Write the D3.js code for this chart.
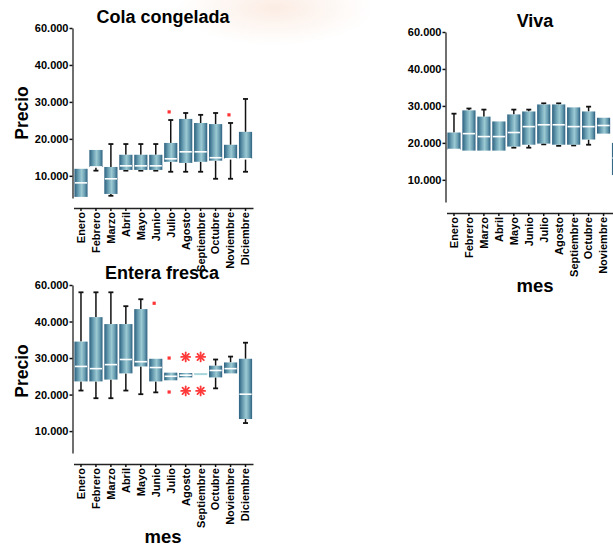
<!DOCTYPE html>
<html>
<head>
<meta charset="utf-8">
<script src="https://cdn.jsdelivr.net/npm/d3@7"></script>
<style>
  html, body { margin: 0; padding: 0; background: #fff; }
  svg { display: block; font-family: "Liberation Sans", Arial, sans-serif; }
</style>
</head>
<body>
<svg id="chart" width="613" height="548"></svg>
<script>
// Months on the x axis
const meses = ["Enero","Febrero","Marzo","Abril","Mayo","Junio","Julio","Agosto","Septiembre","Octubre","Noviembre","Diciembre"];

// Y axis ticks (values and printed labels)
const tickValues = [10000, 20000, 30000, 40000, 50000];
const tickLabels = ["10.000", "20.000", "30.000", "40.000", "60.000"];

// Cola congelada: whisker low, Q1, median, Q3, whisker high
const colaLow  = [4300, 11400, 4600, 11400, 11400, 11400, 11100, 11100, 11100, 9200, 9200, 11100];
const colaQ1   = [4300, 12400, 5100, 11600, 11600, 11600, 13800, 13500, 13800, 14100, 14600, 14600];
const colaMed  = [8100, 12400, 9200, 12700, 12700, 12700, 14600, 16500, 16500, 14900, 14600, 14600];
const colaQ3   = [11900, 17000, 12400, 15700, 15700, 15700, 18900, 25400, 24300, 24000, 18400, 21900];
const colaHigh = [11900, 17000, 18600, 18600, 18600, 18600, 25100, 27000, 26500, 27000, 24300, 30800];
const colaOut  = [[], [], [], [], [], [], [27300], [], [], [], [26500], []];
const colaExt  = [[], [], [], [], [], [], [], [], [], [], [], []];

// Viva
const vivaLow  = [18200, 17900, 17900, 17900, 18700, 18700, 19600, 19200, 19300, 19500, 22500, 11300];
const vivaQ1   = [18200, 17900, 17900, 17900, 19000, 19500, 19800, 19500, 19500, 20900, 22500, 11300];
const vivaMed  = [18200, 22500, 21700, 21700, 22800, 24400, 24900, 24900, 24400, 24400, 24700, 15900];
const vivaQ3   = [22800, 28800, 27100, 25800, 27700, 28500, 30400, 30400, 29600, 28500, 26800, 20000];
const vivaHigh = [27900, 29300, 29000, 25800, 29000, 29000, 30700, 30700, 29600, 29800, 26800, 20000];
const vivaOut  = [[], [], [], [], [], [], [], [], [], [], [], []];
const vivaExt  = [[], [], [], [], [], [], [], [], [], [], [], []];

// Entera fresca
const enteraLow  = [21100, 19000, 19000, 21100, 20100, 20600, 23900, 24700, 25600, 21700, 25800, 12200];
const enteraQ1   = [23600, 23600, 24100, 25800, 27700, 23600, 23900, 24700, 25600, 24700, 25800, 13300];
const enteraMed  = [27700, 27100, 28200, 29600, 29000, 27400, 25000, 25300, 25600, 26600, 27100, 20100];
const enteraQ3   = [34500, 41200, 39300, 39300, 43400, 29800, 26000, 25900, 25600, 27900, 28800, 29800];
const enteraHigh = [48000, 48000, 48000, 44200, 46100, 29800, 26000, 25900, 25600, 29600, 30400, 34200];
const enteraOut  = [[], [], [], [], [], [45000], [30000, 20700], [], [], [], [], []];
const enteraExt  = [[], [], [], [], [], [], [], [30300, 21000], [30300, 21000], [], [], []];

const W = 613;
const svg = d3.select("#chart");
const defs = svg.append("defs");

// Cylinder-like shading for the boxes
const grad = defs.append("linearGradient").attr("id", "boxFill")
  .attr("x1", "0%").attr("x2", "100%").attr("y1", "0%").attr("y2", "0%");
[["0%", "#2c6180"], ["30%", "#6a9fb3"], ["55%", "#9ccad3"], ["78%", "#6b9fb3"], ["100%", "#2c6180"]]
  .forEach(([o, c]) => grad.append("stop").attr("offset", o).attr("stop-color", c));

// Faint logo glow behind the top of the page
const glow = defs.append("radialGradient").attr("id", "glow");
glow.append("stop").attr("offset", "0%").attr("stop-color", "#f6cdb4").attr("stop-opacity", 0.38);
glow.append("stop").attr("offset", "60%").attr("stop-color", "#f8dccb").attr("stop-opacity", 0.2);
glow.append("stop").attr("offset", "100%").attr("stop-color", "#fbe8dc").attr("stop-opacity", 0);
svg.append("ellipse").attr("cx", 275).attr("cy", 8).attr("rx", 100).attr("ry", 38).attr("fill", "url(#glow)");
svg.append("rect").attr("x", 375).attr("y", 12).attr("width", 238).attr("height", 300).attr("fill", "#fff");

function asterisk(g, cx, cy, r) {
  for (let k = 0; k < 4; k++) {
    const a = k * Math.PI / 4;
    g.append("line")
      .attr("x1", cx - r * Math.cos(a)).attr("y1", cy - r * Math.sin(a))
      .attr("x2", cx + r * Math.cos(a)).attr("y2", cy + r * Math.sin(a))
      .attr("stroke", "#ff3a3a").attr("stroke-width", 1.8).attr("stroke-linecap", "round");
  }
}

function drawPanel(p) {
  const g = svg.append("g");
  const x = d3.scaleBand().domain(meses).range([p.x0, p.x0 + 179.5]).paddingInner(0.12).paddingOuter(0.06);
  const y = d3.scaleLinear().domain([4000, 50000]).range([p.yBottom, p.yTop]);
  const bw = x.bandwidth();

  // y axis
  const ya = g.append("g").attr("transform", `translate(${p.x0 - 1},0)`)
    .call(d3.axisLeft(y).tickValues(tickValues).tickFormat((d, i) => tickLabels[i]).tickSizeInner(3).tickSizeOuter(0).tickPadding(1));
  ya.select(".domain").attr("stroke", "#222").attr("stroke-width", 1.3);
  ya.selectAll(".tick line").attr("stroke", "#111").attr("stroke-width", 1.5);
  ya.selectAll(".tick text").attr("font-size", 11).attr("font-weight", "bold").attr("fill", "#000");

  // x axis (labels past the page edge are left out)
  const xa = g.append("g").attr("transform", `translate(0,${p.xAxisY})`)
    .call(d3.axisBottom(x).tickSizeInner(3).tickSizeOuter(0));
  xa.select(".domain").attr("stroke", "#222").attr("stroke-width", 1.3);
  xa.selectAll(".tick line").attr("stroke", "#111").attr("stroke-width", 1.5);
  xa.selectAll(".tick text")
    .attr("font-size", 11).attr("font-weight", "bold").attr("fill", "#000")
    .attr("transform", "rotate(-90)").attr("text-anchor", "end")
    .attr("x", -4).attr("y", 0).attr("dy", "0.35em");
  xa.selectAll(".tick").filter(m => x(m) + x.bandwidth() / 2 + 3 > W).select("text").remove();

  const rows = meses.map((m, i) => ({
    m, lo: p.low[i], q1: p.q1[i], med: p.med[i], q3: p.q3[i], hi: p.high[i], out: p.out[i], ext: p.ext[i]
  }));
  const cx = d => x(d.m) + bw / 2;
  const capW = 5;

  // whiskers
  rows.forEach(d => {
    if (d.hi > d.q3) {
      g.append("line").attr("x1", cx(d)).attr("x2", cx(d)).attr("y1", y(d.q3)).attr("y2", y(d.hi))
        .attr("stroke", "#111").attr("stroke-width", 1.5);
      g.append("line").attr("x1", cx(d) - capW / 2).attr("x2", cx(d) + capW / 2).attr("y1", y(d.hi)).attr("y2", y(d.hi))
        .attr("stroke", "#111").attr("stroke-width", 1.8);
    }
    if (d.lo < d.q1) {
      g.append("line").attr("x1", cx(d)).attr("x2", cx(d)).attr("y1", y(d.q1)).attr("y2", y(d.lo))
        .attr("stroke", "#111").attr("stroke-width", 1.5);
      g.append("line").attr("x1", cx(d) - capW / 2).attr("x2", cx(d) + capW / 2).attr("y1", y(d.lo)).attr("y2", y(d.lo))
        .attr("stroke", "#111").attr("stroke-width", 1.8);
    }
  });

  // boxes with medians
  rows.forEach(d => {
    if (d.q3 > d.q1) {
      g.append("rect").attr("x", x(d.m)).attr("width", bw)
        .attr("y", y(d.q3)).attr("height", y(d.q1) - y(d.q3))
        .attr("fill", "url(#boxFill)");
      g.append("line").attr("x1", x(d.m) + 0.5).attr("x2", x(d.m) + bw - 0.5)
        .attr("y1", y(d.med)).attr("y2", y(d.med))
        .attr("stroke", "#fff").attr("stroke-width", 1.6);
    } else {
      g.append("line").attr("x1", x(d.m)).attr("x2", x(d.m) + bw)
        .attr("y1", y(d.med)).attr("y2", y(d.med))
        .attr("stroke", "#a8d6dd").attr("stroke-width", 2);
    }
  });

  // outliers (squares) and extremes (asterisks)
  rows.forEach(d => {
    d.out.forEach(v => {
      g.append("rect").attr("x", cx(d) - 3.2).attr("y", y(v) - 1.6).attr("width", 3.2).attr("height", 3.2)
        .attr("fill", "#ff3434");
    });
    d.ext.forEach(v => asterisk(g, cx(d), y(v), 4.5));
  });

  // titles
  g.append("text").attr("x", p.titleX).attr("y", p.titleY).attr("text-anchor", "middle")
    .attr("font-size", 18).attr("font-weight", "bold").attr("fill", "#000").text(p.title);

  if (p.precioY) {
    g.append("text").attr("transform", `translate(28,${p.precioY}) rotate(-90)`).attr("text-anchor", "middle")
      .attr("font-size", 17.5).attr("font-weight", "bold").attr("fill", "#000").text("Precio");
  }
  if (p.mesY) {
    g.append("text").attr("x", p.mesX).attr("y", p.mesY).attr("text-anchor", "middle")
      .attr("font-size", 18.5).attr("font-weight", "bold").attr("fill", "#000").text("mes");
  }
}

drawPanel({
  title: "Cola congelada", titleX: 163, titleY: 23,
  x0: 73.5, yTop: 28, yBottom: 198, xAxisY: 208,
  low: colaLow, q1: colaQ1, med: colaMed, q3: colaQ3, high: colaHigh, out: colaOut, ext: colaExt,
  precioY: 113
});

drawPanel({
  title: "Viva", titleX: 535, titleY: 27,
  x0: 446.5, yTop: 32, yBottom: 202, xAxisY: 213,
  low: vivaLow, q1: vivaQ1, med: vivaMed, q3: vivaQ3, high: vivaHigh, out: vivaOut, ext: vivaExt,
  mesX: 535, mesY: 292
});

drawPanel({
  title: "Entera fresca", titleX: 162, titleY: 279,
  x0: 73.5, yTop: 285, yBottom: 453, xAxisY: 464,
  low: enteraLow, q1: enteraQ1, med: enteraMed, q3: enteraQ3, high: enteraHigh, out: enteraOut, ext: enteraExt,
  precioY: 371, mesX: 163, mesY: 543
});
</script>
</body>
</html>
